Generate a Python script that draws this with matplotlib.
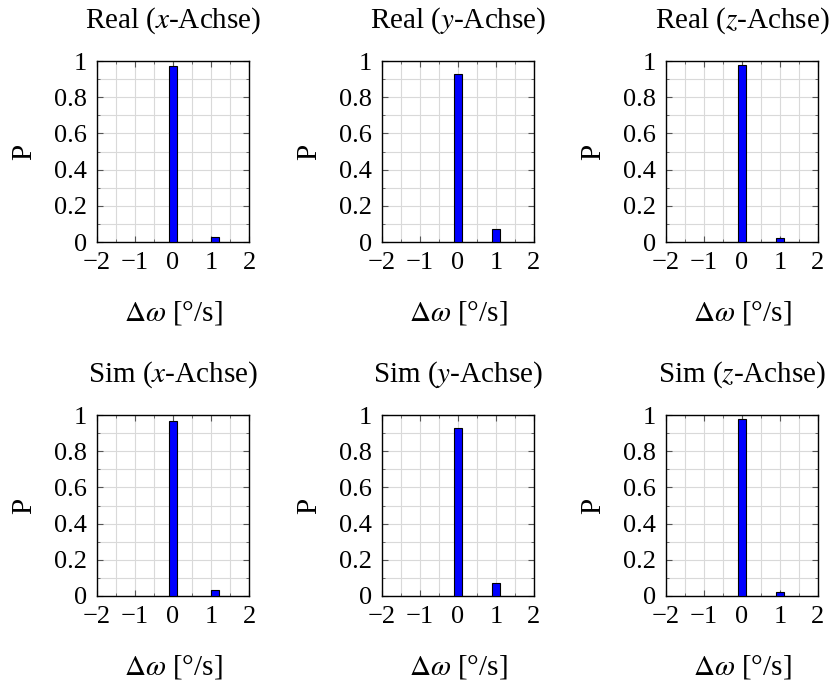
import matplotlib
matplotlib.use("Agg")
import matplotlib.pyplot as plt
from matplotlib.ticker import MultipleLocator, FixedLocator

plt.rcParams['font.family'] = ['Liberation Serif', 'DejaVu Serif']
plt.rcParams['mathtext.fontset'] = 'stix'
plt.rcParams['axes.unicode_minus'] = True

titles = ["Real ($x$-Achse)", "Real ($y$-Achse)", "Real ($z$-Achse)",
          "Sim ($x$-Achse)", "Sim ($y$-Achse)", "Sim ($z$-Achse)"]
bar_pos = [[0, 1.1], [0, 1.0], [0, 1.0],
           [0, 1.1], [0, 1.0], [0, 1.0]]
bar_vals = [[0.972, 0.028], [0.93, 0.07], [0.977, 0.023],
            [0.967, 0.033], [0.93, 0.07], [0.98, 0.02]]
xticks = [-2, -1, 0, 1, 2]
yticks = [0, 0.2, 0.4, 0.6, 0.8, 1]
ytick_labels = ["0", "0.2", "0.4", "0.6", "0.8", "1"]
xlabel = r"$\Delta\omega$ [°/s]"
ylabel = "P"

W, H = 835, 680
fig = plt.figure(figsize=(W/100, H/100), dpi=100)

lefts = [97, 382, 666]
tops = [61, 415]
aw, ah = 152, 181

for i in range(6):
    r, c = divmod(i, 3)
    ax = fig.add_axes([lefts[c]/W, 1 - (tops[r]+ah)/H, aw/W, ah/H])
    ax.bar(bar_pos[i], bar_vals[i], width=0.2, color='#0000ff',
           edgecolor='black', linewidth=0.8, zorder=3)
    ax.set_xlim(-2, 2)
    ax.set_ylim(0, 1)
    ax.xaxis.set_major_locator(FixedLocator(xticks))
    ax.xaxis.set_minor_locator(MultipleLocator(0.5))
    ax.yaxis.set_major_locator(FixedLocator(yticks))
    ax.set_yticklabels(ytick_labels)
    ax.yaxis.set_minor_locator(MultipleLocator(0.1))
    ax.grid(True, which='both', color='#d9d9d9', linewidth=0.8, zorder=0)
    ax.set_axisbelow(True)
    ax.tick_params(which='both', direction='in', top=True, right=True,
                   color='#555555', labelsize=19)
    ax.tick_params(axis='x', which='major', pad=7)
    ax.tick_params(axis='y', which='major', pad=7)
    ax.tick_params(which='major', length=4, width=0.8)
    ax.tick_params(which='minor', length=2.5, width=0.6)
    for s in ax.spines.values():
        s.set_linewidth(1.0)
    ax.set_title(titles[i], fontsize=21, pad=24)
    ax.set_xlabel(xlabel, fontsize=21, labelpad=18)
    ax.set_ylabel(ylabel, fontsize=21, labelpad=12)

fig.savefig("out.png", dpi=100)
